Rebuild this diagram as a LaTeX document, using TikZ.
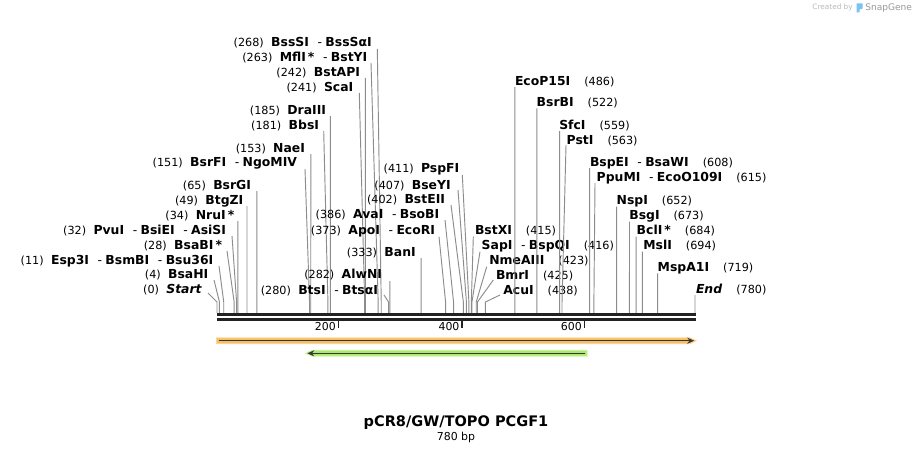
\documentclass[tikz,border=0pt]{standalone}
\usepackage{fontspec}
\setmainfont{DejaVu Sans}
\usetikzlibrary{arrows.meta}
\definecolor{leadgray}{RGB}{140,140,140}
\definecolor{bbone}{RGB}{34,34,34}
\definecolor{orangeband}{RGB}{247,190,100}
\definecolor{orangeedge}{RGB}{250,215,150}
\definecolor{greenband}{RGB}{170,232,110}
\definecolor{greenedge}{RGB}{205,245,165}
\definecolor{featline}{RGB}{55,55,55}
\definecolor{sgblue}{RGB}{120,195,240}
\newcommand\nbr[1]{{\fontsize{8.4}{9}\selectfont(#1)}}
\newcommand\enz[1]{\textbf{#1}}
\newcommand\dsh{\hspace{6.5pt}-\hspace{2.5pt}}
\newcommand\gp{\hspace{5.5pt}}
\newcommand\gq{\hspace{10.5pt}}
\newcommand\st{\,\textbf{*}}
\tikzset{
  lab/.style={inner sep=0pt, outer sep=0pt, font=\fontsize{9.3}{10}\selectfont},
  lead/.style={draw=leadgray, line width=0.7pt},
}
% left label: #1 bp, #2 end x, #3 centre y, #4 line start x, #5 line start y, #6 text
\newcommand\LL[6]{%
  \node[lab,anchor=base east] (L#1) at (#2,#3+4.4) {#6};
  \coordinate (b#1) at ({217+#1*0.61282},302);
  \coordinate (s#1) at ({217+#1*0.61282},313);
  \draw[lead] ([shift={({#4-#2},{#5-#3-4.4})}]L#1.base east) -- (b#1) -- (s#1);
}
% right label: #1 bp, #2 start x, #3 centre y, #4 line start x, #5 line start y, #6 text
\newcommand\RL[6]{%
  \node[lab,anchor=base west] (R#1) at (#2,#3+4.4) {#6};
  \coordinate (b#1) at ({217+#1*0.61282},302);
  \coordinate (s#1) at ({217+#1*0.61282},313);
  \draw[lead] ([shift={({#4-#2},{#5-#3-4.4})}]R#1.base west) -- (b#1) -- (s#1);
}
\begin{document}
\begin{tikzpicture}[x=0.75pt,y=-0.75pt]
\useasboundingbox (0,0) rectangle (913,453);
\fill[white] (0,0) rectangle (913,453);

% left-side labels
\LL{0}{202}{289}{208}{293}{\nbr{0}\gp\textbf{\textit{Start}}}
\LL{4}{208.3}{274.3}{214}{280}{\nbr{4}\gp\enz{BsaHI}}
\LL{11}{213.3}{260}{219}{266}{\nbr{11}\gp\enz{Esp3I}\dsh\enz{BsmBI}\dsh\enz{Bsu36I}}
\LL{28}{222}{245}{227}{251}{\nbr{28}\gp\enz{BsaBI}\st}
\LL{32}{226}{230}{232}{236}{\nbr{32}\gp\enz{PvuI}\dsh\enz{BsiEI}\dsh\enz{AsiSI}}
\LL{34}{234.3}{215}{237.8}{221}{\nbr{34}\gp\enz{NruI}\st}
\LL{49}{243.3}{200}{247}{206}{\nbr{49}\gp\enz{BtgZI}}
\LL{65}{251}{185}{256.8}{191}{\nbr{65}\gp\enz{BsrGI}}
\LL{151}{297}{161.7}{305}{169}{\nbr{151}\gp\enz{BsrFI}\dsh\enz{NgoMIV}}
\LL{153}{305}{147.7}{310.8}{154}{\nbr{153}\gp\enz{NaeI}}
\LL{181}{319}{125}{323.7}{131}{\nbr{181}\gp\enz{BbsI}}
\LL{185}{326}{110}{330.4}{116}{\nbr{185}\gp\enz{DraIII}}
\LL{241}{353.3}{87.3}{359.3}{93}{\nbr{241}\gp\enz{ScaI}}
\LL{242}{360}{71.7}{365.3}{78}{\nbr{242}\gp\enz{BstAPI}}
\LL{263}{367.3}{56.7}{371}{63}{\nbr{263}\gp\enz{MflI}\st\dsh\enz{BstYI}}
\LL{268}{371.7}{41.7}{377.3}{49}{\nbr{268}\gp\enz{BssSI}\dsh\enz{BssSαI}}
\LL{280}{378}{290}{384}{295}{\nbr{280}\gp\enz{BtsI}\dsh\enz{BtsαI}}
\LL{282}{382}{274.3}{389.8}{281}{\nbr{282}\gp\enz{AlwNI}}
\LL{333}{415.7}{251.7}{421.1}{258}{\nbr{333}\gp\enz{BanI}}
\LL{373}{435}{230}{439}{236.7}{\nbr{373}\gp\enz{ApoI}\dsh\enz{EcoRI}}
\LL{386}{439.3}{214.3}{445}{220}{\nbr{386}\gp\enz{AvaI}\dsh\enz{BsoBI}}
\LL{402}{445}{199.3}{451}{205}{\nbr{402}\gp\enz{BstEII}}
\LL{407}{450.7}{185}{458}{190}{\nbr{407}\gp\enz{BseYI}}
\LL{411}{459.3}{167.7}{462.3}{175}{\nbr{411}\gp\enz{PspFI}}

% right-side labels
\RL{415}{475}{230}{473.3}{236.7}{\enz{BstXI}\gq\nbr{415}}
\RL{416}{481.7}{245}{480}{251.7}{\enz{SapI}\dsh\enz{BspQI}\gq\nbr{416}}
\RL{423}{489.3}{260}{486.7}{266.7}{\enz{NmeAIII}\gq\nbr{423}}
\RL{425}{496}{275}{493.3}{280}{\enz{BmrI}\gq\nbr{425}}
\RL{438}{503.3}{290}{500}{295}{\enz{AcuI}\gq\nbr{438}}
\RL{486}{515}{80.7}{514.8}{87}{\enz{EcoP15I}\gq\nbr{486}}
\RL{522}{536.7}{102.3}{536.9}{108.3}{\enz{BsrBI}\gq\nbr{522}}
\RL{559}{559.3}{125}{559.6}{131}{\enz{SfcI}\gq\nbr{559}}
\RL{563}{566.7}{140}{566}{145}{\enz{PstI}\gq\nbr{563}}
\RL{608}{590}{161.7}{589.6}{168}{\enz{BspEI}\dsh\enz{BsaWI}\gq\nbr{608}}
\RL{615}{596.7}{176.7}{595}{183}{\enz{PpuMI}\dsh\enz{EcoO109I}\gq\nbr{615}}
\RL{652}{616.7}{200}{616.6}{206.7}{\enz{NspI}\gq\nbr{652}}
\RL{673}{629.3}{215}{629.5}{221.7}{\enz{BsgI}\gq\nbr{673}}
\RL{684}{636.7}{230}{636.2}{236.7}{\enz{BclI}\st\gq\nbr{684}}
\RL{694}{643.3}{245}{642.3}{251.7}{\enz{MslI}\gq\nbr{694}}
\RL{719}{657.7}{267.3}{657.6}{273.3}{\enz{MspA1I}\gq\nbr{719}}
\RL{780}{696}{289.3}{695}{295}{\textbf{\textit{End}}\gq\nbr{780}}

% backbone
\draw[bbone, line width=2pt] (217,314.7) -- (695.7,314.7);
\draw[bbone, line width=1.7pt] (217,319.5) -- (695.7,319.5);
% ticks
\foreach \t/\xx in {200/338.5, 400/462.2, 600/584.5}{
  \draw[bbone, line width=1.1pt] (\xx,320) -- (\xx,327.5);
  \node[inner sep=0pt, anchor=base east, font=\fontsize{8.2}{9}\selectfont] (tick\t) at (\xx-2.5,330.8) {\t};
}

% orange feature (forward)
\fill[orangeedge] (216,337.3) -- (690,337.3) -- (697,340.7) -- (690,344.1) -- (216,344.1) -- cycle;
\fill[orangeband] (217,338.3) -- (690,338.3) -- (695.3,340.7) -- (690,343.1) -- (217,343.1) -- cycle;
\draw[featline, line width=0.9pt, -{Stealth[length=5pt,width=4.5pt]}] (218.5,340.7) -- (694,340.7);

% green feature (reverse)
\fill[greenedge] (587.7,349.9) -- (312,349.9) -- (305,353.3) -- (312,356.7) -- (587.7,356.7) -- cycle;
\fill[greenband] (586.7,350.9) -- (312,350.9) -- (306.5,353.3) -- (312,355.7) -- (586.7,355.7) -- cycle;
\draw[featline, line width=0.9pt, -{Stealth[length=5pt,width=4.5pt]}] (585,353.3) -- (307.5,353.3);

% title
\node[inner sep=0pt, font=\fontsize{10.9}{12}\selectfont\bfseries] (title) at (456,423) {pCR8/GW/TOPO PCGF1};
\node[inner sep=0pt, font=\fontsize{8.2}{9}\selectfont] (size) at (456,437) {780 bp};

% SnapGene credit
\node[inner sep=0pt, anchor=base east, text=gray!55, font=\fontsize{5.5}{6}\selectfont] (cred) at (853,10) {Created by};
\fill[sgblue] (856.5,3.5) -- (862.5,3.5) -- (862.5,8.5) -- (859.5,9.5) -- (859.5,12.5) -- (856.5,12.5) -- cycle;
\node[inner sep=0pt, anchor=base west, text=gray!80, font=\fontsize{6.8}{7}\selectfont] (sg) at (865,10.5) {SnapGene};
\end{tikzpicture}
\end{document}
